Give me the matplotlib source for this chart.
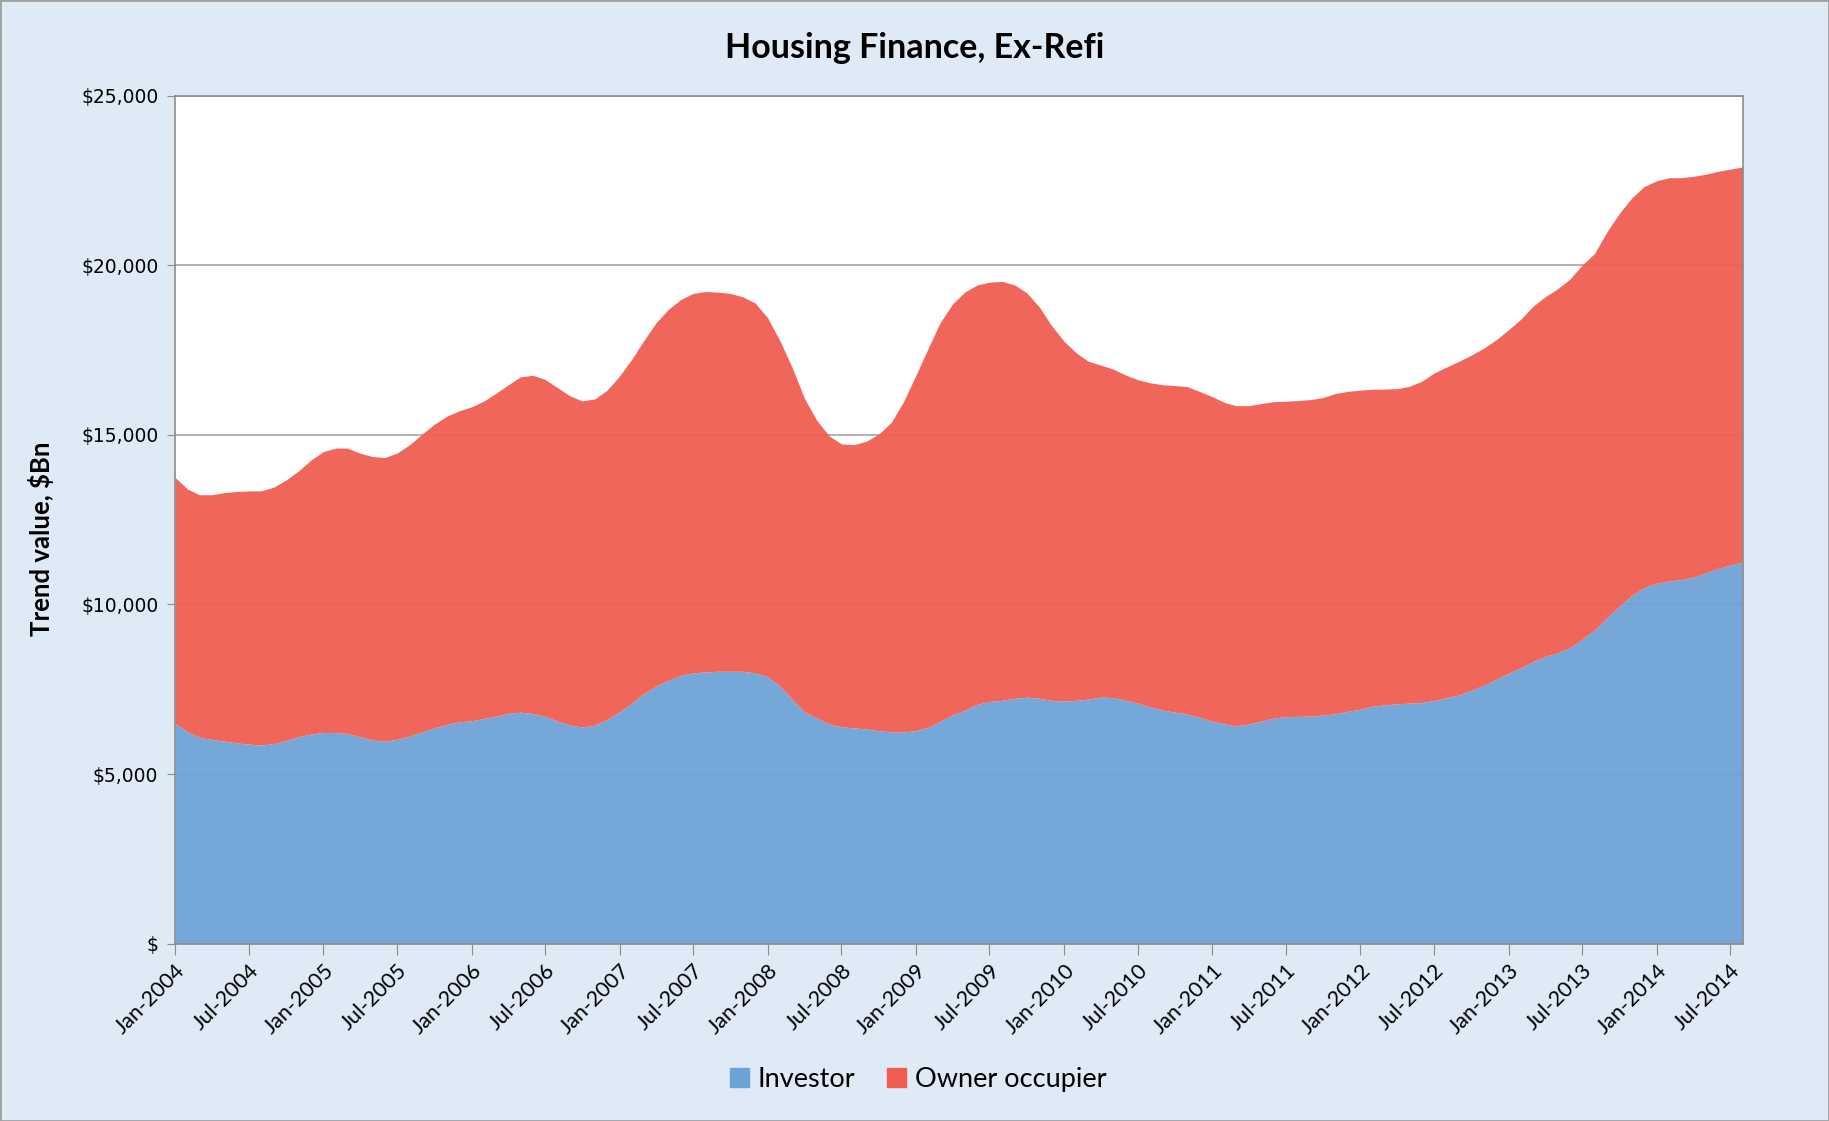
import numpy as np
import pandas as pd
import matplotlib
matplotlib.use("Agg")
import matplotlib.pyplot as plt
import matplotlib.dates as mdates
from matplotlib.ticker import FuncFormatter, MultipleLocator
from matplotlib.patches import Rectangle, Patch

# monthly trend values, Jan-2004 .. Aug-2014 ($Bn)
months = pd.date_range("2004-01-01", "2014-08-01", freq="MS")

investor = [
    6490, 6245, 6080, 6020, 5970, 5920, 5880, 5850, 5900, 5990, 6100, 6180,
    6225, 6225, 6195, 6100, 6000, 5970, 6020, 6120, 6245, 6360, 6460, 6540,
    6570, 6640, 6705, 6785, 6825, 6785, 6705, 6560, 6440, 6390, 6440, 6610,
    6835, 7100, 7370, 7590, 7765, 7910, 7980, 8010, 8030, 8030, 8030, 7985,
    7872, 7581, 7209, 6826, 6651, 6477, 6395, 6360, 6326, 6279, 6244, 6244,
    6279, 6384, 6558, 6744, 6884, 7058, 7140, 7174, 7233, 7267, 7233, 7174,
    7151, 7174, 7209, 7267, 7256, 7174, 7093, 6977, 6884, 6826, 6767, 6674,
    6558, 6477, 6419, 6477, 6558, 6651, 6690, 6700, 6710, 6740, 6780, 6850,
    6910, 7000, 7040, 7070, 7090, 7110, 7170, 7250, 7330, 7470, 7620, 7790,
    7970, 8140, 8310, 8470, 8570, 8730, 8970, 9250, 9620, 9950, 10270, 10500,
    10630, 10690, 10730, 10800, 10930, 11060, 11160, 11250,
]

# top of the stack (investor + owner occupier)
total = [
    13745, 13400, 13235, 13235, 13295, 13330, 13345, 13350, 13460, 13670, 13940, 14255,
    14510, 14610, 14610, 14460, 14360, 14330, 14460, 14705, 15020, 15310, 15550, 15705,
    15824, 16000, 16216, 16470, 16706, 16755, 16637, 16392, 16147, 16000, 16059, 16314,
    16735, 17245, 17765, 18304, 18696, 18990, 19167, 19225, 19206, 19167, 19069, 18890,
    18450, 17756, 17000, 16070, 15430, 14965, 14733, 14710, 14815, 15023, 15370, 15977,
    16767, 17580, 18300, 18860, 19210, 19420, 19500, 19523, 19420, 19186, 18767, 18220,
    17756, 17407, 17174, 17058, 16942, 16767, 16628, 16535, 16477, 16453, 16419, 16279,
    16128, 15953, 15860, 15860, 15919, 15977, 15990, 16010, 16040, 16100, 16220, 16280,
    16320, 16345, 16350, 16360, 16430, 16580, 16820, 17000, 17170, 17350, 17560, 17800,
    18100, 18420, 18780, 19070, 19300, 19590, 20000, 20350, 21000, 21530, 21990, 22320,
    22490, 22580, 22580, 22620, 22680, 22770, 22830, 22900,
]

blue = "#6ca3d7"
red = "#f15c51"
bg = "#deeaf6"

fig = plt.figure(figsize=(18.29, 11.21), dpi=100, facecolor=bg)
fig.patches.append(Rectangle((0, 0), 1, 1, transform=fig.transFigure,
                             fill=False, edgecolor="#a0a0a0", lw=2))
ax = fig.add_axes([0.0957, 0.1582, 0.8571, 0.7565])
ax.set_facecolor("white")

ax.set_ylim(0, 25000)
ax.yaxis.set_major_locator(MultipleLocator(5000))
ax.grid(axis="y", color="#a6a6a6", lw=1.2, zorder=0)
ax.set_axisbelow(True)

ax.fill_between(months, 0, investor, color=blue, lw=0, alpha=0.94, zorder=2)
ax.fill_between(months, investor, total, color=red, lw=0, alpha=0.94, zorder=2)

ax.set_xlim(months[0], months[-1])
ax.xaxis.set_major_locator(mdates.MonthLocator(bymonth=[1, 7]))
ax.xaxis.set_major_formatter(mdates.DateFormatter("%b-%Y"))
ax.yaxis.set_major_formatter(FuncFormatter(lambda v, p: "$" if v == 0 else f"${v:,.0f}"))

for s in ax.spines.values():
    s.set_color("#8c8c8c")
    s.set_linewidth(1.2)

ax.tick_params(axis="y", length=6, color="#8c8c8c", labelsize=13.5, pad=6)
ax.tick_params(axis="x", length=8, color="#8c8c8c", pad=4)
for lab in ax.get_xticklabels():
    lab.set_rotation(45)
    lab.set_ha("right")
    lab.set_rotation_mode("anchor")
    lab.set_family("Lato")
    lab.set_fontsize(15.5)

ax.set_ylabel("Trend value, $Bn", family="Lato", fontsize=18.5, fontweight="bold")
ax.yaxis.set_label_coords(-0.077, 0.477)
fig.text(0.5, 0.957, "Housing Finance, Ex-Refi", ha="center", va="center",
         family="Lato", fontsize=24.5, fontweight="bold")

handles = [Patch(color=blue, label="Investor"), Patch(color=red, label="Owner occupier")]
fig.legend(handles=handles, loc="center", bbox_to_anchor=(0.502, 0.037), ncol=2,
           frameon=False, prop={"family": "Lato", "size": 19.5},
           handlelength=0.7, handleheight=0.7, handletextpad=0.3, columnspacing=1.2)

fig.savefig("out.png", dpi=100, facecolor=bg)
